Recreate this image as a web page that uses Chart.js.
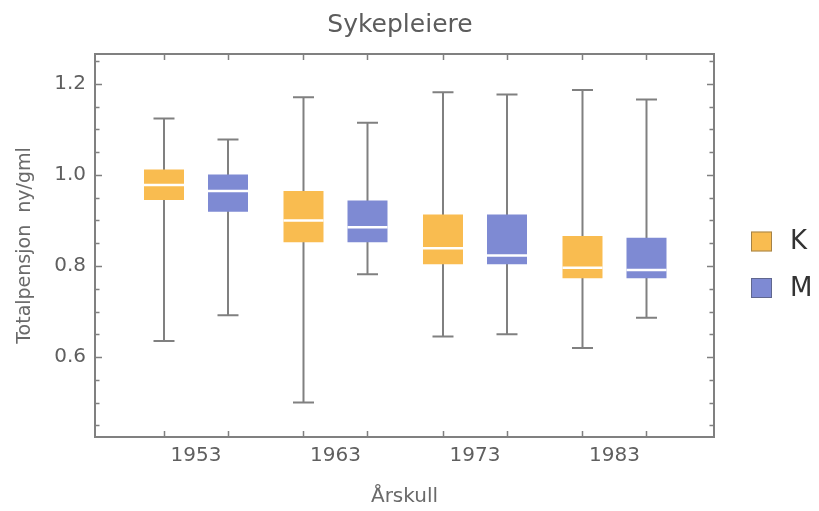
<!DOCTYPE html>
<html>
<head>
<meta charset="utf-8">
<title>Sykepleiere</title>
<script src="https://cdn.jsdelivr.net/npm/chart.js@4/dist/chart.umd.min.js"></script>
<style>
  html, body { margin: 0; padding: 0; background: #ffffff; }
  #wrap { width: 819px; height: 511px; }
</style>
</head>
<body>
<div id="wrap"><canvas id="c" width="819" height="511"></canvas></div>
<script>
// Birth cohorts (Årskull) on the x axis
const cohorts = [1953, 1963, 1973, 1983];

// Women (K): box-plot statistics per cohort
const kMin    = [0.635, 0.500, 0.645, 0.620];
const kQ1     = [0.945, 0.852, 0.804, 0.773];
const kMedian = [0.978, 0.900, 0.839, 0.796];
const kQ3     = [1.012, 0.965, 0.913, 0.866];
const kMax    = [1.124, 1.171, 1.182, 1.187];

// Men (M): box-plot statistics per cohort
const mMin    = [0.692, 0.782, 0.650, 0.686];
const mQ1     = [0.919, 0.852, 0.804, 0.773];
const mMedian = [0.965, 0.885, 0.823, 0.791];
const mQ3     = [1.001, 0.944, 0.913, 0.862];
const mMax    = [1.078, 1.115, 1.177, 1.166];

// Axis ticks
const yMajorTicks = [0.6, 0.8, 1.0, 1.2];
const yMinorTicks = [0.45, 0.5, 0.55, 0.65, 0.7, 0.75, 0.85, 0.9, 0.95, 1.05, 1.1, 1.15, 1.25];

const seriesNames = ['K', 'M'];
const FONT = "'DejaVu Sans', 'Liberation Sans', sans-serif";
const ORANGE = '#F9BC50';
const BLUE = '#7E8AD3';
const GREY = '#808080';

const stats = [
  { min: kMin, q1: kQ1, med: kMedian, q3: kQ3, max: kMax },
  { min: mMin, q1: mQ1, med: mMedian, q3: mQ3, max: mMax }
];

function boxData(s) {
  return cohorts.map((c, i) => ({ x: c, y: [s.q1[i], s.q3[i]] }));
}

// Whiskers, medians, the framed plot area with inward ticks, title and key
const boxPlotDecor = {
  id: 'boxPlotDecor',
  beforeDatasetsDraw(chart) {
    const ctx = chart.ctx;
    const y = chart.scales.y;
    ctx.save();
    ctx.strokeStyle = GREY;
    ctx.lineWidth = 2;
    stats.forEach((s, d) => {
      const meta = chart.getDatasetMeta(d);
      meta.data.forEach((el, i) => {
        const x = el.x;
        const yTop = y.getPixelForValue(s.max[i]);
        const yBot = y.getPixelForValue(s.min[i]);
        ctx.beginPath();
        ctx.moveTo(x, yTop); ctx.lineTo(x, yBot);
        ctx.moveTo(x - 10.5, yTop); ctx.lineTo(x + 10.5, yTop);
        ctx.moveTo(x - 10.5, yBot); ctx.lineTo(x + 10.5, yBot);
        ctx.stroke();
      });
    });
    ctx.restore();
  },
  afterDatasetsDraw(chart) {
    const ctx = chart.ctx;
    const y = chart.scales.y;
    const a = chart.chartArea;
    ctx.save();
    // medians
    ctx.strokeStyle = '#ffffff';
    ctx.lineWidth = 2.5;
    stats.forEach((s, d) => {
      const meta = chart.getDatasetMeta(d);
      meta.data.forEach((el, i) => {
        const yy = y.getPixelForValue(s.med[i]);
        const w = el.width / 2;
        ctx.beginPath();
        ctx.moveTo(el.x - w, yy); ctx.lineTo(el.x + w, yy);
        ctx.stroke();
      });
    });
    // frame
    ctx.strokeStyle = GREY;
    ctx.lineWidth = 2;
    ctx.strokeRect(a.left, a.top, a.right - a.left, a.bottom - a.top);
    ctx.lineWidth = 1.5;
    ctx.beginPath();
    // y ticks on both sides, pointing inward
    const yTick = (v, len) => {
      const p = Math.round(y.getPixelForValue(v)) + 0.5;
      ctx.moveTo(a.left, p); ctx.lineTo(a.left + len, p);
      ctx.moveTo(a.right, p); ctx.lineTo(a.right - len, p);
    };
    yMajorTicks.forEach(v => yTick(v, 7));
    yMinorTicks.forEach(v => yTick(v, 4.5));
    // x ticks at each box centre, top and bottom
    stats.forEach((s, d) => {
      chart.getDatasetMeta(d).data.forEach(el => {
        const p = Math.round(el.x) + 0.5;
        ctx.moveTo(p, a.bottom); ctx.lineTo(p, a.bottom - 6);
        ctx.moveTo(p, a.top); ctx.lineTo(p, a.top + 6);
      });
    });
    ctx.stroke();
    ctx.restore();
  },
  afterDraw(chart) {
    const ctx = chart.ctx;
    ctx.save();
    // title
    ctx.fillStyle = '#5c5c5c';
    ctx.font = '25px ' + FONT;
    ctx.textAlign = 'center';
    ctx.textBaseline = 'middle';
    ctx.fillText('Sykepleiere', 400, 25);
    // key
    const colors = [ORANGE, BLUE];
    const rows = [241.5, 288];
    seriesNames.forEach((name, i) => {
      const cy = rows[i];
      ctx.fillStyle = colors[i];
      ctx.fillRect(751, cy - 10, 21, 20);
      ctx.strokeStyle = 'rgba(60,60,60,0.45)';
      ctx.lineWidth = 1;
      ctx.strokeRect(751.5, cy - 9.5, 20, 19);
      ctx.fillStyle = '#333333';
      ctx.font = '26px ' + FONT;
      ctx.textAlign = 'left';
      ctx.textBaseline = 'middle';
      ctx.fillText(name, 790, cy + 1);
    });
    ctx.restore();
  }
};

new Chart(document.getElementById('c'), {
  type: 'bar',
  data: {
    datasets: [
      { label: seriesNames[0], data: boxData(stats[0]), backgroundColor: ORANGE, borderWidth: 0 },
      { label: seriesNames[1], data: boxData(stats[1]), backgroundColor: BLUE, borderWidth: 0 }
    ]
  },
  options: {
    responsive: false,
    animation: false,
    devicePixelRatio: 1,
    categoryPercentage: 0.9176,
    barPercentage: 0.625,
    layout: { padding: { top: 54, right: 105, bottom: 0, left: 0 } },
    plugins: {
      legend: { display: false },
      title: { display: false },
      tooltip: { enabled: false }
    },
    scales: {
      x: {
        type: 'linear',
        offset: false,
        min: 1945.76,
        max: 1990.133,
        afterFit(s) { s.height = 74; },
        afterBuildTicks(s) { s.ticks = cohorts.map(v => ({ value: v })); },
        grid: { display: false, drawTicks: false, offset: false },
        border: { display: false },
        ticks: {
          padding: 7,
          color: '#5f5f5f',
          font: { family: FONT, size: 20 },
          callback: v => String(v)
        },
        title: {
          display: true,
          text: 'Årskull',
          color: '#6a6a6a',
          font: { family: FONT, size: 20 },
          padding: { top: 0, bottom: 2 }
        }
      },
      y: {
        type: 'linear',
        min: 0.42418,
        max: 1.26593,
        afterFit(s) { s.width = 95; },
        afterBuildTicks(s) { s.ticks = yMajorTicks.map(v => ({ value: v })); },
        grid: { display: false, drawTicks: false },
        border: { display: false },
        ticks: {
          padding: 9,
          color: '#5f5f5f',
          font: { family: FONT, size: 20 },
          callback: v => v.toFixed(1)
        },
        title: {
          display: true,
          text: 'Totalpensjon  ny/gml',
          color: '#6a6a6a',
          font: { family: FONT, size: 19 },
          padding: { top: 14, bottom: 0 }
        }
      }
    }
  },
  plugins: [boxPlotDecor]
});
</script>
</body>
</html>
